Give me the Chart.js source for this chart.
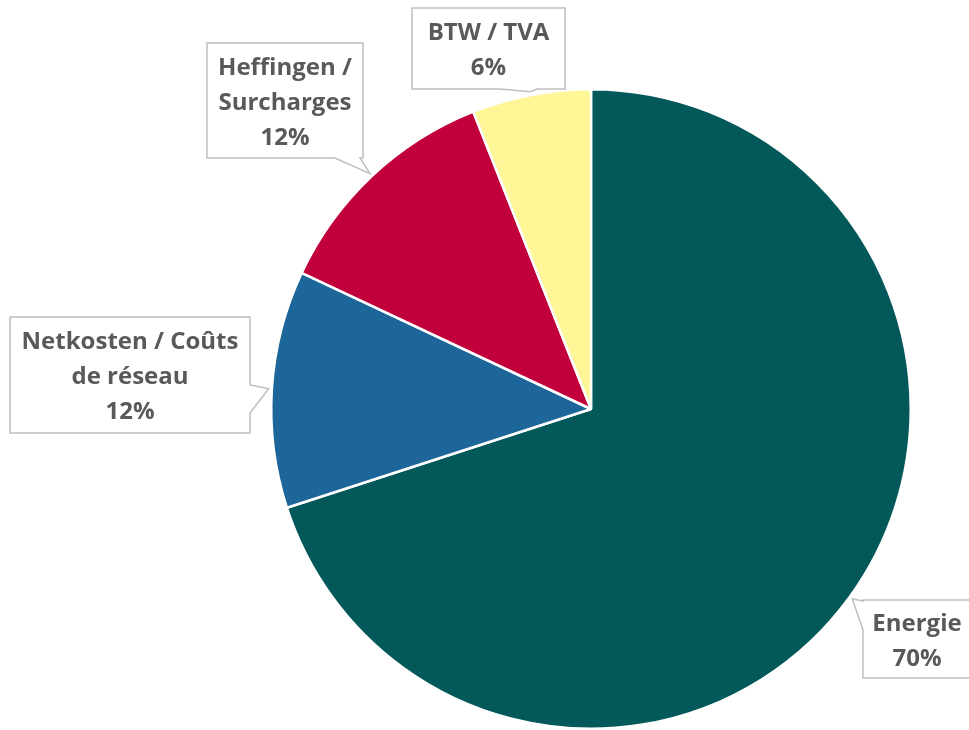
<!DOCTYPE html>
<html>
<head>
<meta charset="utf-8">
<script src="https://cdn.jsdelivr.net/npm/chart.js@4.4.1/dist/chart.umd.min.js"></script>
<style>
  html, body { margin: 0; padding: 0; background: #fff; }
  #wrap { width: 969px; height: 730px; position: relative; }
</style>
</head>
<body>
<div id="wrap"><canvas id="pie"></canvas></div>
<script>
// chart data
const categories = [
  ["Energie"],
  ["Netkosten / Coûts", "de réseau"],
  ["Heffingen /", "Surcharges"],
  ["BTW / TVA"],
];
const shares = [70, 12, 12, 6];
const sliceColors = ["#03585A", "#1D6699", "#C1003B", "#FFF697"];

// callout boxes (layout only): box = [x, y, w, h], side where the pointer leaves, base = two points along that side
const callouts = [
  { box: [863, 600, 108, 78], side: "left", base: [601, 630] },
  { box: [10, 317, 240, 116], side: "right", base: [385, 413] },
  { box: [207, 43, 156, 115], side: "bottom", base: [335, 360] },
  { box: [412, 8, 153, 81], side: "bottom", base: [500, 537] },
];

const calloutPlugin = {
  id: "callouts",
  afterDraw(chart) {
    const ctx = chart.ctx;
    const meta = chart.getDatasetMeta(0);
    ctx.save();
    callouts.forEach((c, i) => {
      const arc = meta.data[i];
      const p = arc.getProps(["x", "y", "startAngle", "endAngle", "outerRadius"], true);
      const mid = (p.startAngle + p.endAngle) / 2;
      const tx = p.x + Math.cos(mid) * p.outerRadius * 1.01;
      const ty = p.y + Math.sin(mid) * p.outerRadius * 1.01;
      const [bx, by, bw, bh] = c.box;

      // outline of box with the pointer folded in
      ctx.beginPath();
      ctx.moveTo(bx, by);
      ctx.lineTo(bx + bw, by);
      if (c.side === "right") {
        ctx.lineTo(bx + bw, c.base[0]);
        ctx.lineTo(tx, ty);
        ctx.lineTo(bx + bw, c.base[1]);
      }
      ctx.lineTo(bx + bw, by + bh);
      if (c.side === "bottom") {
        ctx.lineTo(c.base[1], by + bh);
        ctx.lineTo(tx, ty);
        ctx.lineTo(c.base[0], by + bh);
      }
      ctx.lineTo(bx, by + bh);
      if (c.side === "left") {
        ctx.lineTo(bx, c.base[1]);
        ctx.lineTo(tx, ty);
        ctx.lineTo(bx, c.base[0]);
      }
      ctx.closePath();
      ctx.fillStyle = "#ffffff";
      ctx.fill();
      ctx.strokeStyle = "#BFBFBF";
      ctx.lineWidth = 1.5;
      ctx.stroke();

      // text
      const lines = categories[i].concat([shares[i] + "%"]);
      const lh = 35;
      const cx = bx + bw / 2;
      let y = by + bh / 2 - (lines.length - 1) * lh / 2 + 9;
      ctx.fillStyle = "#595959";
      ctx.font = "bold 24px 'Open Sans'";
      ctx.textAlign = "center";
      ctx.textBaseline = "alphabetic";
      lines.forEach(t => {
        ctx.fillText(t, cx, y);
        y += lh;
      });
    });
    ctx.restore();
  },
};

const ctxPie = document.getElementById("pie").getContext("2d");
let pieChart = new Chart(ctxPie, {
  type: "pie",
  data: {
    labels: categories.map(l => l.join(" ")),
    datasets: [
      {
        data: shares,
        backgroundColor: sliceColors,
        borderColor: "#ffffff",
        borderWidth: 2.5,
      },
    ],
  },
  options: {
    responsive: true,
    maintainAspectRatio: false,
    animation: false,
    layout: { padding: { top: 88, bottom: -4, left: 268, right: 55 } },
    plugins: {
      legend: { display: false },
      tooltip: { enabled: false },
    },
  },
  plugins: [calloutPlugin],
});
</script>
</body>
</html>
